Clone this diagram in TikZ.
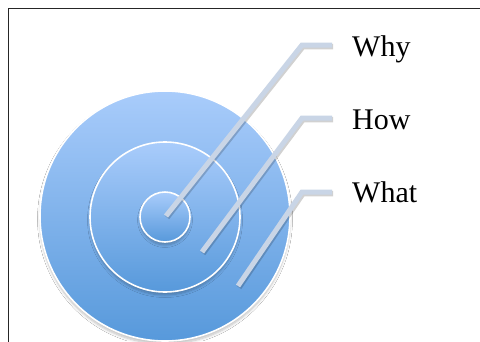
\documentclass[tikz,border=0pt]{standalone}
\usepackage{fontspec}
\setmainfont{Liberation Serif}
\usetikzlibrary{shadows.blur}
\definecolor{ctop}{HTML}{A9CCFB}
\definecolor{cbot}{HTML}{5799DB}
\definecolor{leader}{HTML}{C9D5E6}
\tikzset{
  ring/.style={circle, draw=white, line width=1.6pt, inner sep=0pt, outer sep=0pt,
    top color=ctop, bottom color=cbot,
    blur shadow={shadow xshift=0pt, shadow yshift=-3pt, shadow blur steps=6, shadow opacity=25, shadow blur radius=2.5pt}},
  leadline/.style={draw=leader, line width=5pt, line join=miter,
    preaction={draw=black, draw opacity=0.18, line width=5.5pt, transform canvas={xshift=1pt, yshift=-1.5pt}}},
  lbl/.style={anchor=base west, inner sep=0pt, font=\fontsize{30}{36}\selectfont}
}
\begin{document}
\begin{tikzpicture}[x=1pt,y=-1pt]
\useasboundingbox (0,0) rectangle (480,341);
\begin{scope}
\clip (0,0) rectangle (480,341);
\fill[white] (0,0) rectangle (480,341);
\draw[line width=1.5pt, black!85] (8.5,345) -- (8.5,8.5) -- (485,8.5);
\node[ring, minimum size=250pt] (outer) at (165,216) {};
\node[ring, minimum size=150pt] (middle) at (165,217) {};
\node[ring, minimum size=50pt] (inner) at (165,217) {};
\coordinate (s1) at (166,216);
\coordinate (b1) at (302,45);
\coordinate (e1) at (332,45);
\coordinate (s2) at (202,252);
\coordinate (b2) at (302,118);
\coordinate (e2) at (332,118);
\coordinate (s3) at (238,286);
\coordinate (b3) at (302,192);
\coordinate (e3) at (332,192);
\draw[leadline] (s1) -- (b1) -- (e1);
\draw[leadline] (s2) -- (b2) -- (e2);
\draw[leadline] (s3) -- (b3) -- (e3);
\node[lbl] (why) at (352,56) {Why};
\node[lbl] (how) at (352,129) {How};
\node[lbl] (what) at (352,202) {What};
\end{scope}
\end{tikzpicture}
\end{document}
